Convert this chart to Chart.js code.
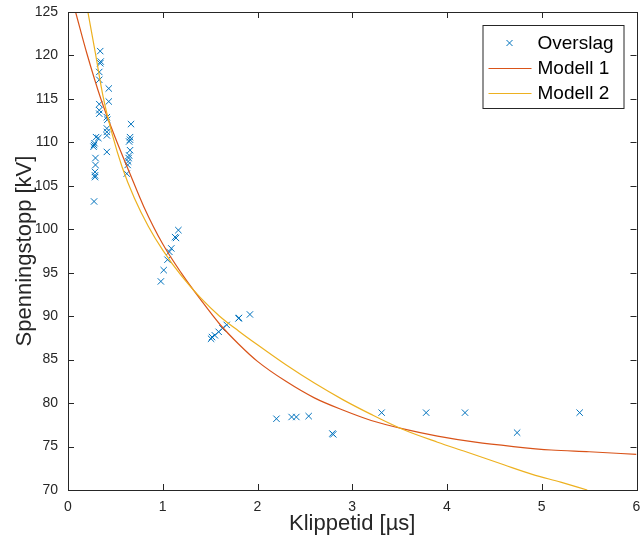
<!doctype html>
<html lang="no">
<head>
<meta charset="utf-8">
<script src="https://cdn.jsdelivr.net/npm/chart.js@4.4.1/dist/chart.umd.min.js"></script>
<style>
  html, body { margin: 0; padding: 0; background: #fff; }
  #wrap { width: 642px; height: 546px; position: relative; }
</style>
</head>
<body>
<div id="wrap"><canvas id="chart" width="642" height="546"></canvas></div>
<script>
// measured points (Klippetid in us, Spenningstopp in kV)
const overslagX = [0.275, 0.285, 0.285, 0.285, 0.29, 0.29, 0.27, 0.275, 0.28, 0.296, 0.32,
  0.33, 0.33, 0.33, 0.33, 0.33, 0.34, 0.345, 0.34,
  0.41, 0.41, 0.41, 0.41, 0.415, 0.41, 0.43, 0.43,
  0.62, 0.63, 0.635, 0.64, 0.645, 0.655, 0.645, 0.655, 0.655, 0.665,
  0.98, 1.01, 1.05, 1.07, 1.09, 1.13, 1.14, 1.165,
  1.51, 1.52, 1.55, 1.59, 1.63, 1.675, 1.80, 1.805, 1.92,
  2.20, 2.36, 2.41, 2.54, 2.79, 2.80,
  3.31, 3.78, 4.19, 4.74, 5.40];
const overslagY = [103.2, 106.0, 106.2, 106.6, 107.4, 108.2, 109.5, 109.7, 109.9, 110.6, 110.5,
  113.3, 113.7, 114.4, 117.2, 118.1, 119.1, 119.3, 120.5,
  108.9, 110.8, 111.2, 111.6, 112.6, 112.9, 114.7, 116.2,
  106.4, 107.4, 107.8, 108.2, 108.5, 109.1, 110.1, 110.3, 110.6, 112.1,
  94.0, 95.3, 96.5, 97.4, 97.8, 99.1, 99.0, 99.9,
  87.4, 87.6, 87.8, 88.2, 88.6, 89.0, 89.75, 89.8, 90.2,
  78.2, 78.4, 78.4, 78.5, 76.5, 76.4,
  78.9, 78.9, 78.9, 76.6, 78.9];

// model curves
const modell1X = [0.08, 0.2, 0.35, 0.5, 0.65, 0.8, 1.0, 1.2, 1.4, 1.6, 1.8, 2.0, 2.3, 2.6, 2.9, 3.2, 3.55, 3.9, 4.3, 4.7, 5.1, 5.5, 6.0];
const modell1Y = [125.0, 120.2, 114.9, 110.5, 106.5, 102.6, 98.3, 94.9, 91.9, 89.1, 86.8, 84.8, 82.5, 80.6, 79.2, 78.0, 77.0, 76.2, 75.5, 75.0, 74.6, 74.4, 74.1];
const modell2X = [0.21, 0.29, 0.37, 0.47, 0.57, 0.7, 0.85, 1.0, 1.2, 1.4, 1.6, 1.8, 2.0, 2.3, 2.6, 2.9, 3.2, 3.55, 3.9, 4.2, 4.6, 4.9, 5.2, 5.48];
const modell2Y = [125.0, 120.2, 115.3, 110.8, 107.2, 103.6, 100.3, 97.6, 94.6, 92.1, 90.0, 88.3, 86.7, 84.4, 82.3, 80.4, 78.7, 76.9, 75.5, 74.4, 72.9, 71.8, 70.9, 70.0];

const xTicks = [0, 1, 2, 3, 4, 5, 6];
const yTicks = [70, 75, 80, 85, 90, 95, 100, 105, 110, 115, 120, 125];

const seriesNames = ['Overslag', 'Modell 1', 'Modell 2'];
const colors = ['#0072BD', '#D95319', '#EDB120'];

const toPts = (xs, ys) => xs.map((x, i) => ({ x: x, y: ys[i] }));
const FONT = '"Liberation Sans", Arial, Helvetica, sans-serif';
const AXIS = '#262626';

// box around the axes with inward ticks, matlab style
const boxPlugin = {
  id: 'box',
  afterDatasetsDraw(chart) {
    const { ctx, chartArea: a, scales } = chart;
    ctx.save();
    ctx.strokeStyle = AXIS;
    ctx.lineWidth = 1;
    ctx.beginPath();
    xTicks.forEach(t => {
      const px = Math.round(scales.x.getPixelForValue(t)) + 0.5;
      ctx.moveTo(px, a.bottom); ctx.lineTo(px, a.bottom - 6);
      ctx.moveTo(px, a.top); ctx.lineTo(px, a.top + 6);
    });
    yTicks.forEach(t => {
      const py = Math.round(scales.y.getPixelForValue(t)) + 0.5;
      ctx.moveTo(a.left, py); ctx.lineTo(a.left + 6, py);
      ctx.moveTo(a.right, py); ctx.lineTo(a.right - 6, py);
    });
    ctx.stroke();
    ctx.strokeRect(Math.round(a.left) + 0.5, Math.round(a.top) + 0.5, Math.round(a.right - a.left), Math.round(a.bottom - a.top));
    ctx.restore();
  }
};

// legend box in the upper right corner
const legendPlugin = {
  id: 'boxLegend',
  afterDraw(chart) {
    const { ctx, chartArea: a } = chart;
    const bx = a.right - 154, by = a.top + 13, bw = 141, bh = 83;
    ctx.save();
    ctx.fillStyle = '#fff';
    ctx.fillRect(bx, by, bw, bh);
    ctx.strokeStyle = '#262626';
    ctx.lineWidth = 1;
    ctx.strokeRect(bx + 0.5, by + 0.5, bw, bh);
    ctx.font = '19px ' + FONT;
    ctx.textBaseline = 'middle';
    seriesNames.forEach((name, i) => {
      const cy = by + 18 + i * 25;
      if (i === 0) {
        const cx = bx + 27;
        ctx.strokeStyle = colors[0];
        ctx.beginPath();
        ctx.moveTo(cx - 3, cy - 3); ctx.lineTo(cx + 3, cy + 3);
        ctx.moveTo(cx - 3, cy + 3); ctx.lineTo(cx + 3, cy - 3);
        ctx.stroke();
      } else {
        ctx.strokeStyle = colors[i];
        ctx.beginPath();
        ctx.moveTo(bx + 6, cy + 0.5); ctx.lineTo(bx + 49, cy + 0.5);
        ctx.stroke();
      }
      ctx.fillStyle = '#000';
      ctx.fillText(name, bx + 55, cy + 1);
    });
    ctx.restore();
  }
};

new Chart(document.getElementById('chart'), {
  type: 'scatter',
  data: {
    datasets: [
      {
        label: seriesNames[0],
        data: toPts(overslagX, overslagY),
        pointStyle: 'crossRot',
        pointRadius: 4.5,
        pointBorderWidth: 1,
        borderColor: colors[0],
        backgroundColor: colors[0],
        showLine: false,
        order: 3
      },
      {
        label: seriesNames[1],
        data: toPts(modell1X, modell1Y),
        showLine: true,
        borderColor: colors[1],
        borderWidth: 1.2,
        pointRadius: 0,
        cubicInterpolationMode: 'monotone',
        order: 2
      },
      {
        label: seriesNames[2],
        data: toPts(modell2X, modell2Y),
        showLine: true,
        borderColor: colors[2],
        borderWidth: 1.2,
        pointRadius: 0,
        cubicInterpolationMode: 'monotone',
        order: 1
      }
    ]
  },
  options: {
    responsive: false,
    animation: false,
    layout: { padding: { top: 12, right: 3, left: 0, bottom: 0 } },
    plugins: {
      legend: { display: false },
      tooltip: { enabled: false }
    },
    scales: {
      x: {
        type: 'linear',
        min: 0, max: 6,
        afterBuildTicks: s => { s.ticks = xTicks.map(v => ({ value: v })); },
        afterFit: s => { s.height = 56; },
        grid: { display: false },
        border: { display: false },
        ticks: { color: AXIS, font: { family: FONT, size: 14 }, padding: 1, maxRotation: 0 },
        title: { display: true, text: 'Klippetid [µs]', color: AXIS, font: { family: FONT, size: 22 }, padding: { top: 0, bottom: 9 } }
      },
      y: {
        type: 'linear',
        min: 70, max: 125,
        afterBuildTicks: s => { s.ticks = yTicks.map(v => ({ value: v })); },
        afterFit: s => { s.width = 68; },
        grid: { display: false },
        border: { display: false },
        ticks: { color: AXIS, font: { family: FONT, size: 14 }, padding: 2 },
        title: { display: true, text: 'Spenningstopp [kV]', color: AXIS, font: { family: FONT, size: 22 }, padding: { top: 12, bottom: 0 } }
      }
    }
  },
  plugins: [boxPlugin, legendPlugin]
});
</script>
</body>
</html>
